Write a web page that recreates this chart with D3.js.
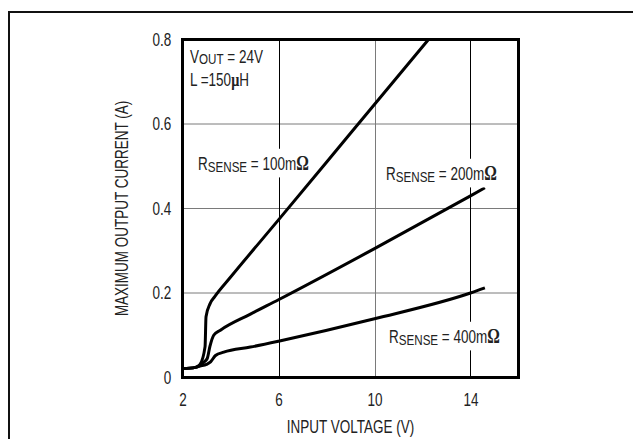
<!DOCTYPE html>
<html>
<head>
<meta charset="utf-8">
<script src="https://cdn.jsdelivr.net/npm/d3@7"></script>
<style>
  body { margin: 0; background: #fff; }
  svg text { font-family: "Liberation Sans", Arial, sans-serif; fill: #222; }
  .sym { font-family: "Liberation Serif", "DejaVu Serif", serif; font-weight: bold; }
</style>
</head>
<body>
<div class="chart"></div>
<script>
const WIDTH = 633;
const HEIGHT = 439;
const NARROW = 0.75;   // squeeze Liberation Sans into a narrow face
const FS = 18;

// ticks
var xTicks = [2, 6, 10, 14];
var yTicks = [0, 0.2, 0.4, 0.6, 0.8];

// Rsense = 100 mOhm
var vin100 = [2.0, 2.54, 2.73, 2.94, 2.98, 3.15, 3.35, 3.98, 6.0, 9.0, 12.25];
var iout100 = [0.021, 0.024, 0.031, 0.073, 0.144, 0.175, 0.192, 0.236, 0.373, 0.578, 0.80];

// Rsense = 200 mOhm
var vin200 = [2.0, 2.54, 2.73, 2.88, 3.03, 3.14, 3.30, 3.58, 4.83, 6.0, 10.0, 14.0, 14.6];
var iout200 = [0.021, 0.024, 0.029, 0.036, 0.045, 0.073, 0.100, 0.112, 0.150, 0.184, 0.305, 0.430, 0.449];

// Rsense = 400 mOhm
var vin400 = [2.0, 2.54, 2.73, 3.0, 3.17, 3.375, 3.72, 4.83, 6.0, 10.0, 14.0, 14.6];
var iout400 = [0.021, 0.024, 0.027, 0.031, 0.037, 0.052, 0.060, 0.072, 0.086, 0.139, 0.200, 0.212];

function toPoints(xs, ys) {
    return xs.map(function (v, i) { return {x: v, y: ys[i]}; });
}

var x = d3.scaleLinear().domain([2, 16]).range([182.5, 518.5]);
var y = d3.scaleLinear().domain([0, 0.8]).range([377.5, 39.5]);

var svg = d3.select('.chart').append('svg')
    .attr('width', WIDTH)
    .attr('height', HEIGHT);

// text in a squeezed group
function ntext(px, py, rotate) {
    var gg = svg.append('g')
        .attr('transform', 'translate(' + px + ',' + py + ')' + (rotate ? ' rotate(' + rotate + ')' : '') + ' scale(' + NARROW + ',1)');
    return gg.append('text').attr('font-size', FS);
}

// outer page frame (top + left only)
svg.append('path')
    .attr('d', 'M9,' + HEIGHT + 'V12H' + WIDTH)
    .attr('fill', 'none')
    .attr('stroke', '#111')
    .attr('stroke-width', 2);

var g = svg.append('g');

// horizontal grid
g.selectAll('.hgrid').data(yTicks.slice(1, 4)).enter().append('line')
    .attr('x1', x(2)).attr('x2', x(16))
    .attr('y1', function (d) { return y(d); })
    .attr('y2', function (d) { return y(d); })
    .attr('stroke', '#7a7a7a').attr('stroke-width', 1);

// vertical grid (6 and 14 dark, 10 grey)
g.selectAll('.vgrid').data(xTicks.slice(1)).enter().append('line')
    .attr('x1', function (d) { return Math.round(x(d)) + 0.5; })
    .attr('x2', function (d) { return Math.round(x(d)) + 0.5; })
    .attr('y1', y(0)).attr('y2', y(0.8))
    .attr('stroke', function (d) { return d === 10 ? '#7a7a7a' : '#000'; })
    .attr('stroke-width', 1);

// curves
var line = d3.line()
    .x(function (d) { return x(d.x); })
    .y(function (d) { return y(d.y); })
    .curve(d3.curveMonotoneX);

[[vin400, iout400], [vin200, iout200], [vin100, iout100]].forEach(function (s) {
    g.append('path')
        .attr('d', line(toPoints(s[0], s[1])))
        .attr('fill', 'none')
        .attr('stroke', '#000')
        .attr('stroke-width', 3)
        .attr('stroke-linejoin', 'round');
});

// plot frame
g.append('rect')
    .attr('x', x(2)).attr('y', y(0.8))
    .attr('width', x(16) - x(2)).attr('height', y(0) - y(0.8))
    .attr('fill', 'none').attr('stroke', '#000').attr('stroke-width', 3);

// axes (labels only)
var xAxis = d3.axisBottom(x).tickValues(xTicks).tickSize(0).tickPadding(16).tickFormat(d3.format('d'));
var yAxis = d3.axisLeft(y).tickValues(yTicks).tickSize(0).tickPadding(15)
    .tickFormat(function (d) { return d === 0 ? '0' : d3.format('.1f')(d); });

var xg = svg.append('g').attr('transform', 'translate(0,' + y(0) + ')').call(xAxis);
var yg = svg.append('g').attr('transform', 'translate(' + x(2) + ',0)').call(yAxis);
[xg, yg].forEach(function (a) {
    a.select('.domain').remove();
    a.selectAll('text')
        .attr('font-size', FS).attr('font-family', null)
        .attr('transform', 'scale(' + NARROW + ',1)')
        .style('fill', '#222');
});

// axis titles
ntext((x(2) + x(16)) / 2, 433).attr('text-anchor', 'middle').text('INPUT VOLTAGE (V)');
ntext(128, (y(0) + y(0.8)) / 2, -90).attr('text-anchor', 'middle').text('MAXIMUM OUTPUT CURRENT (A)');

// annotations
function label(px, py, parts, boxed) {
    var t = ntext(px, py);
    parts.forEach(function (p) {
        var ts = t.append('tspan').text(p.t);
        if (p.sub) ts.attr('font-size', 15.5).attr('dy', p.dy);
        if (p.back) ts.attr('dy', p.back);
        if (p.sym) ts.attr('class', 'sym').attr('font-size', p.sym);
    });
    if (boxed) {
        var b = t.node().getBBox();
        d3.select(t.node().parentNode).insert('rect', 'text')
            .attr('x', b.x - 3).attr('y', b.y - 2)
            .attr('width', b.width + 6).attr('height', b.height + 4)
            .attr('fill', '#fff');
    }
}

label(190, 63, [{t: 'V'}, {t: 'OUT', sub: true, dy: 1}, {t: ' = 24V', back: -1}], false);
label(190, 86, [{t: 'L =150'}, {t: 'μ', sym: 19}, {t: 'H'}], false);
label(198, 170, [{t: 'R'}, {t: 'SENSE', sub: true, dy: 2}, {t: ' = 100m', back: -2}, {t: 'Ω', sym: 21}], true);
label(386, 180, [{t: 'R'}, {t: 'SENSE', sub: true, dy: 2}, {t: ' = 200m', back: -2}, {t: 'Ω', sym: 21}], true);
label(389, 343, [{t: 'R'}, {t: 'SENSE', sub: true, dy: 2}, {t: ' = 400m', back: -2}, {t: 'Ω', sym: 21}], true);
</script>
</body>
</html>
